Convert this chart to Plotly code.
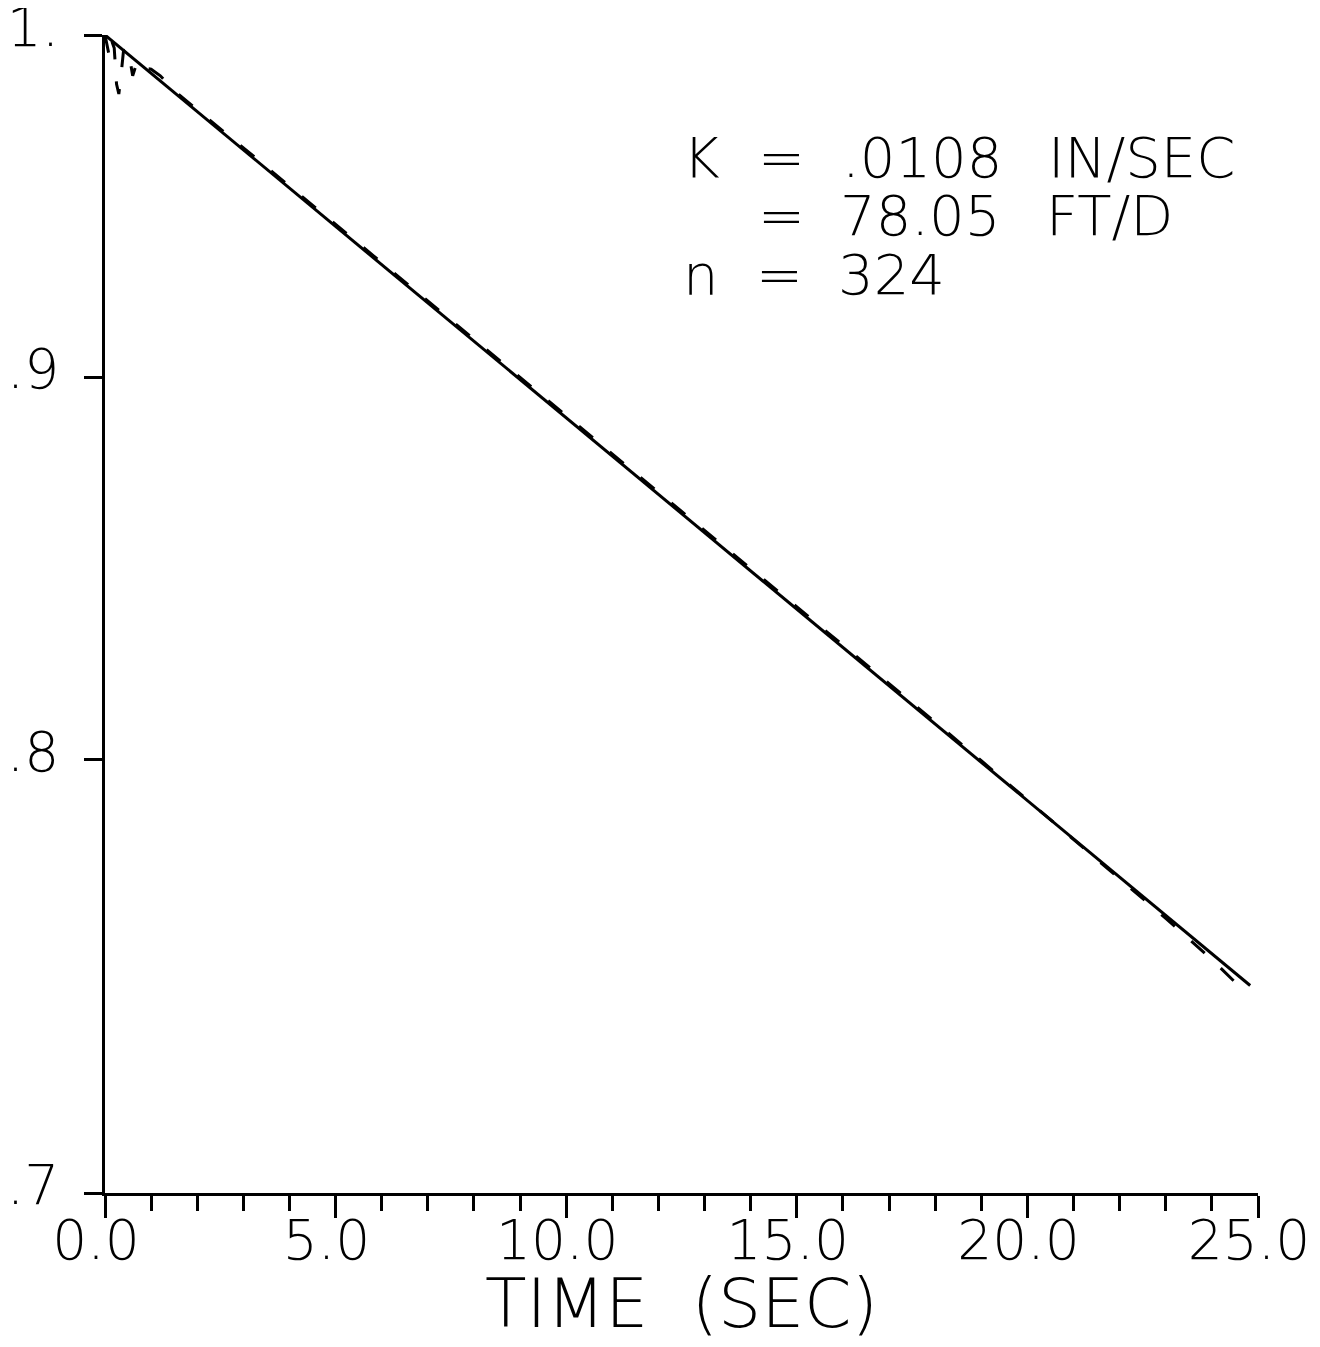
import plotly.graph_objects as go
import math

# ---------------- data ----------------
time_s = [0.0, 0.05, 0.1, 0.15, 0.2, 0.25, 0.3, 0.35, 0.4, 0.5, 0.55, 0.6, 0.7, 0.8, 1.0, 1.2,
          1.5, 2.0, 2.5, 3.0, 3.5, 4.0, 4.5, 5.0, 5.5, 6.0, 6.5, 7.0, 7.5, 8.0, 8.5, 9.0, 9.5,
          10.0, 10.5, 11.0, 11.5, 12.0, 12.5, 13.0, 13.5, 14.0, 14.5, 15.0, 15.5, 16.0, 16.5,
          17.0, 17.5, 18.0, 18.5, 19.0, 19.5, 20.0, 20.5, 21.0, 21.5, 22.0, 22.5, 23.0, 23.5,
          24.0, 24.5, 24.65]
head_ratio = [1.000, 0.996, 0.993, 0.998, 0.996, 0.985, 0.982, 0.988, 0.995, 0.996, 0.992, 0.9875,
              0.992, 0.990, 0.9895, 0.9875,
              0.9830, 0.9773, 0.9716, 0.9659, 0.9602, 0.9545, 0.9489, 0.9433, 0.9378, 0.9323,
              0.9268, 0.9214, 0.9160, 0.9106, 0.9053, 0.9000, 0.8947, 0.8894, 0.8842, 0.8790,
              0.8738, 0.8687, 0.8636, 0.8585, 0.8534, 0.8484, 0.8434, 0.8385, 0.8336, 0.8287,
              0.8238, 0.8189, 0.8141, 0.8093, 0.8045, 0.7997, 0.7949, 0.7901, 0.7852, 0.7805,
              0.7758, 0.7712, 0.7665, 0.7618, 0.7570, 0.7522, 0.7470, 0.7456]

fit_t = [0.0, 24.83]
fit_ratio = [1.0, 0.7462]

x_tickvals = [0, 5, 10, 15, 20, 25]
x_ticktext = ["0.0", "5.0", "10.0", "15.0", "20.0", "25.0"]
y_tickvals = [0.7, 0.8, 0.9, 1.0]
y_ticktext = [".7", ".8", ".9", "1."]

x_title = "TIME  (SEC)"
text_rows = [
    # (text, x_px, y_px) in page pixels
    ("K", 681, 157), ("=", 756, 157), (".0108", 840, 157), ("IN/SEC", 1046, 157),
    ("=", 756, 215), ("78.05", 838, 215), ("FT/D", 1044, 215),
    ("n", 681, 274), ("=", 754, 274), ("324", 836, 274),
]

FONT = "DejaVu Sans"

fig = go.Figure()
fig.add_trace(go.Scatter(x=fit_t, y=fit_ratio, mode="lines",
                         line=dict(color="black", width=3), showlegend=False))
fig.add_trace(go.Scatter(x=time_s, y=head_ratio, mode="lines",
                         line=dict(color="black", width=3, dash="18px,22px"), showlegend=False))

OFF = 8  # page body margin
W, H = 1320 - OFF, 1347 - OFF
L, R, T, B = 105 - OFF, 62, 35 - OFF, 154
pw, ph = W - L - R, H - T - B

def px(xp):
    return (xp - OFF - L) / pw

def py(yp):
    return (OFF + H - B - yp) / ph

anns = []
for txt, xp, yp in text_rows:
    anns.append(dict(text=txt, x=px(xp), y=py(yp), xref="paper", yref="paper",
                     xanchor="left", yanchor="middle", showarrow=False,
                     font=dict(family=FONT, size=56, color="black", weight=300)))
anns.append(dict(text=x_title, x=0.5, y=py(1303), xref="paper", yref="paper",
                 xanchor="center", yanchor="middle", showarrow=False,
                 font=dict(family=FONT, size=68, color="black", weight=300)))

fig.update_layout(
    width=W, height=H,
    margin=dict(l=L, r=R, t=T, b=B, autoexpand=False),
    paper_bgcolor="white", plot_bgcolor="white",
    font=dict(family=FONT, color="black", weight=300),
    annotations=anns,
    xaxis=dict(range=[0, 25], showgrid=False, zeroline=False, showline=True,
               automargin=False, ticklabeloverflow="allow",
               linecolor="black", linewidth=2.5, ticks="outside", ticklen=22,
               tickwidth=2.5, tickcolor="black", tickmode="array",
               tickvals=x_tickvals, ticktext=x_ticktext,
               tickfont=dict(family=FONT, size=55, color="black", weight=300),
               ticklabelshift=-9, ticklabelstandoff=-25,
               minor=dict(dtick=1, tick0=0, ticks="outside", ticklen=15,
                          tickwidth=2.5, tickcolor="black", showgrid=False)),
    yaxis=dict(type="log", range=[math.log10(0.7), 0], showgrid=False, zeroline=False,
               automargin=False, ticklabeloverflow="allow",
               showline=True, linecolor="black", linewidth=2.5, ticks="outside",
               ticklen=18, tickwidth=2.5, tickcolor="black", tickmode="array",
               tickvals=y_tickvals, ticktext=y_ticktext,
               tickfont=dict(family=FONT, size=55, color="black", weight=300),
               ticklabelshift=-8, ticklabelstandoff=14),
)

fig.write_html("out.html")
